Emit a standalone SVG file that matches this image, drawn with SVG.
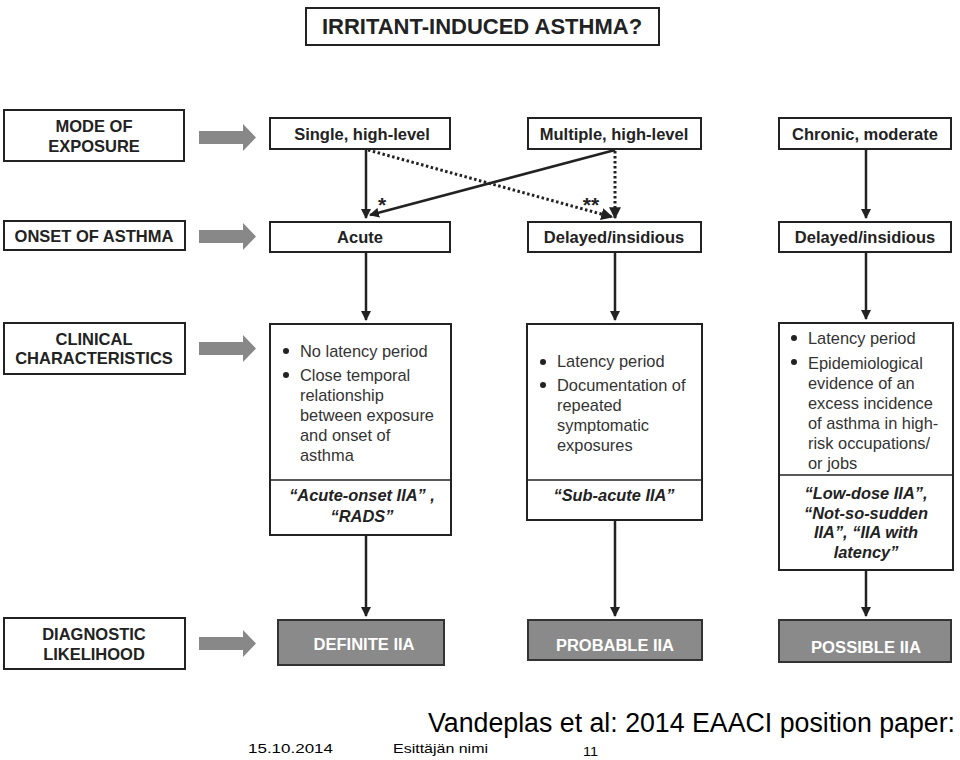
<svg xmlns="http://www.w3.org/2000/svg" width="960" height="760" viewBox="0 0 960 760">
<style>
.box{fill:#fff;stroke:#222;stroke-width:2}
.gbox{fill:#8a8a8a;stroke:#333;stroke-width:2}
.b{font-family:"Liberation Sans",Arial,sans-serif;font-weight:bold;font-size:16.5px;fill:#222;text-anchor:middle}
.w{font-family:"Liberation Sans",Arial,sans-serif;font-weight:bold;font-size:16px;fill:#fff;text-anchor:middle}
.t{font-family:"Liberation Sans",Arial,sans-serif;font-size:16.4px;fill:#333}
.i{font-family:"Liberation Sans",Arial,sans-serif;font-weight:bold;font-style:italic;font-size:16.4px;fill:#222;text-anchor:middle}
.ln{stroke:#222;stroke-width:2.5;fill:none}
.dt{stroke:#222;stroke-width:3;fill:none;stroke-dasharray:2.5 2.5}
.ga{fill:#888}
.f{font-family:"Liberation Sans",Arial,sans-serif;font-size:13px;fill:#000}
</style>
<defs>
<marker id="ah" viewBox="0 0 10 10" refX="9" refY="5" markerWidth="4" markerHeight="4" orient="auto" markerUnits="strokeWidth">
<path d="M0,0 L10,5 L0,10 z" fill="#222"/>
</marker>
<path id="garrow" d="M0,5 H44 V-2 L57,11.5 L44,25 V18 H0 z"/>
</defs>
<rect width="960" height="760" fill="#fff"/>

<g id="title">
<rect class="box" x="306" y="8" width="353" height="37"/>
<text class="b" x="482" y="34" style="font-size:22px">IRRITANT-INDUCED ASTHMA?</text>
</g>

<g id="label-mode">
<rect class="box" x="4" y="110" width="180" height="51"/>
<text class="b" x="94" y="132">MODE OF</text>
<text class="b" x="94" y="152">EXPOSURE</text>
</g>
<g id="label-onset">
<rect class="box" x="4" y="221" width="181" height="29"/>
<text class="b" x="94" y="242">ONSET OF ASTHMA</text>
</g>
<g id="label-clinical">
<rect class="box" x="4" y="323" width="181" height="51"/>
<text class="b" x="94" y="345">CLINICAL</text>
<text class="b" x="94" y="364">CHARACTERISTICS</text>
</g>
<g id="label-diag">
<rect class="box" x="4" y="618" width="181" height="51"/>
<text class="b" x="94" y="640">DIAGNOSTIC</text>
<text class="b" x="94" y="660">LIKELIHOOD</text>
</g>

<g id="gray-arrows">
<use href="#garrow" class="ga" x="199" y="126"/>
<use href="#garrow" class="ga" x="199" y="225"/>
<use href="#garrow" class="ga" x="199" y="337"/>
<use href="#garrow" class="ga" x="199" y="632"/>
</g>

<g id="single">
<rect class="box" x="270" y="118" width="180" height="31"/>
<text class="b" x="362" y="140">Single, high-level</text>
</g>
<g id="multiple">
<rect class="box" x="528" y="118" width="173" height="31"/>
<text class="b" x="614" y="140">Multiple, high-level</text>
</g>
<g id="chronic">
<rect class="box" x="779" y="118" width="172" height="31"/>
<text class="b" x="865" y="140">Chronic, moderate</text>
</g>

<g id="acute">
<rect class="box" x="270" y="222" width="180" height="30"/>
<text class="b" x="360" y="243">Acute</text>
</g>
<g id="delayed2">
<rect class="box" x="528" y="222" width="173" height="30"/>
<text class="b" x="614" y="243">Delayed/insidious</text>
</g>
<g id="delayed3">
<rect class="box" x="779" y="222" width="172" height="30"/>
<text class="b" x="865" y="243">Delayed/insidious</text>
</g>

<g id="clin1">
<rect class="box" x="270" y="324" width="181" height="211"/>
<line x1="270" y1="480" x2="451" y2="480" stroke="#222" stroke-width="1.5"/>
<circle cx="286" cy="351" r="3" fill="#222"/>
<circle cx="286" cy="375" r="3" fill="#222"/>
<text class="t" x="300" y="357">No latency period</text>
<text class="t" x="300" y="381">Close temporal</text>
<text class="t" x="300" y="401">relationship</text>
<text class="t" x="300" y="421">between exposure</text>
<text class="t" x="300" y="441">and onset of</text>
<text class="t" x="300" y="461">asthma</text>
<text class="i" x="362" y="501">“Acute-onset IIA” ,</text>
<text class="i" x="362" y="522">“RADS”</text>
</g>
<g id="clin2">
<rect class="box" x="527" y="324" width="175" height="196"/>
<line x1="527" y1="480" x2="702" y2="480" stroke="#222" stroke-width="1.5"/>
<circle cx="543" cy="362" r="3" fill="#222"/>
<circle cx="543" cy="385" r="3" fill="#222"/>
<text class="t" x="557" y="367">Latency period</text>
<text class="t" x="557" y="391">Documentation of</text>
<text class="t" x="557" y="411">repeated</text>
<text class="t" x="557" y="431">symptomatic</text>
<text class="t" x="557" y="451">exposures</text>
<text class="i" x="614" y="501">“Sub-acute IIA”</text>
</g>
<g id="clin3">
<rect class="box" x="779" y="323" width="174" height="247"/>
<line x1="779" y1="475" x2="953" y2="475" stroke="#222" stroke-width="1.5"/>
<circle cx="794" cy="338" r="3" fill="#222"/>
<circle cx="794" cy="362" r="3" fill="#222"/>
<text class="t" x="808" y="344">Latency period</text>
<text class="t" x="808" y="369">Epidemiological</text>
<text class="t" x="808" y="389">evidence of an</text>
<text class="t" x="808" y="409">excess incidence</text>
<text class="t" x="808" y="429">of asthma in high-</text>
<text class="t" x="808" y="449">risk occupations/</text>
<text class="t" x="808" y="469">or jobs</text>
<text class="i" x="866" y="499">“Low-dose IIA”,</text>
<text class="i" x="866" y="519">“Not-so-sudden</text>
<text class="i" x="866" y="538">IIA”, “IIA with</text>
<text class="i" x="866" y="558">latency”</text>
</g>

<g id="definite">
<rect class="gbox" x="278" y="620" width="166" height="45"/>
<text class="w" x="364" y="650" textLength="101" lengthAdjust="spacingAndGlyphs">DEFINITE IIA</text>
</g>
<g id="probable">
<rect class="gbox" x="528" y="620" width="174" height="40"/>
<text class="w" x="615" y="651" textLength="118" lengthAdjust="spacingAndGlyphs">PROBABLE IIA</text>
</g>
<g id="possible">
<rect class="gbox" x="779" y="620" width="172" height="42"/>
<text class="w" x="866" y="653" textLength="110" lengthAdjust="spacingAndGlyphs">POSSIBLE IIA</text>
</g>

<g id="connectors">
<line class="ln" x1="366" y1="149" x2="366" y2="218" marker-end="url(#ah)"/>
<line class="ln" x1="615" y1="150" x2="370" y2="215" marker-end="url(#ah)"/>
<line class="dt" x1="368" y1="150" x2="612" y2="217" marker-end="url(#ah)"/>
<line class="dt" x1="615" y1="151" x2="615" y2="218" marker-end="url(#ah)"/>
<line class="ln" x1="866" y1="149" x2="866" y2="218" marker-end="url(#ah)"/>
<line class="ln" x1="366" y1="252" x2="366" y2="320" marker-end="url(#ah)"/>
<line class="ln" x1="615" y1="252" x2="615" y2="320" marker-end="url(#ah)"/>
<line class="ln" x1="866" y1="252" x2="866" y2="319" marker-end="url(#ah)"/>
<line class="ln" x1="366" y1="535" x2="366" y2="616" marker-end="url(#ah)"/>
<line class="ln" x1="615" y1="520" x2="615" y2="616" marker-end="url(#ah)"/>
<line class="ln" x1="866" y1="570" x2="866" y2="616" marker-end="url(#ah)"/>
<text class="b" x="382" y="212" style="font-size:21px">*</text>
<text class="b" x="591" y="212" style="font-size:21px">**</text>
</g>

<g id="footer">
<text x="428" y="732" font-family="'Liberation Sans',Arial,sans-serif" font-size="27" textLength="527" lengthAdjust="spacingAndGlyphs">Vandeplas et al: 2014 EAACI position paper:</text>
<text class="f" x="248" y="753" textLength="85" lengthAdjust="spacingAndGlyphs">15.10.2014</text>
<text class="f" x="393" y="753" textLength="95" lengthAdjust="spacingAndGlyphs">Esittäjän nimi</text>
<text class="f" x="583" y="756" font-size="14" textLength="15" lengthAdjust="spacingAndGlyphs">11</text>
</g>
</svg>
